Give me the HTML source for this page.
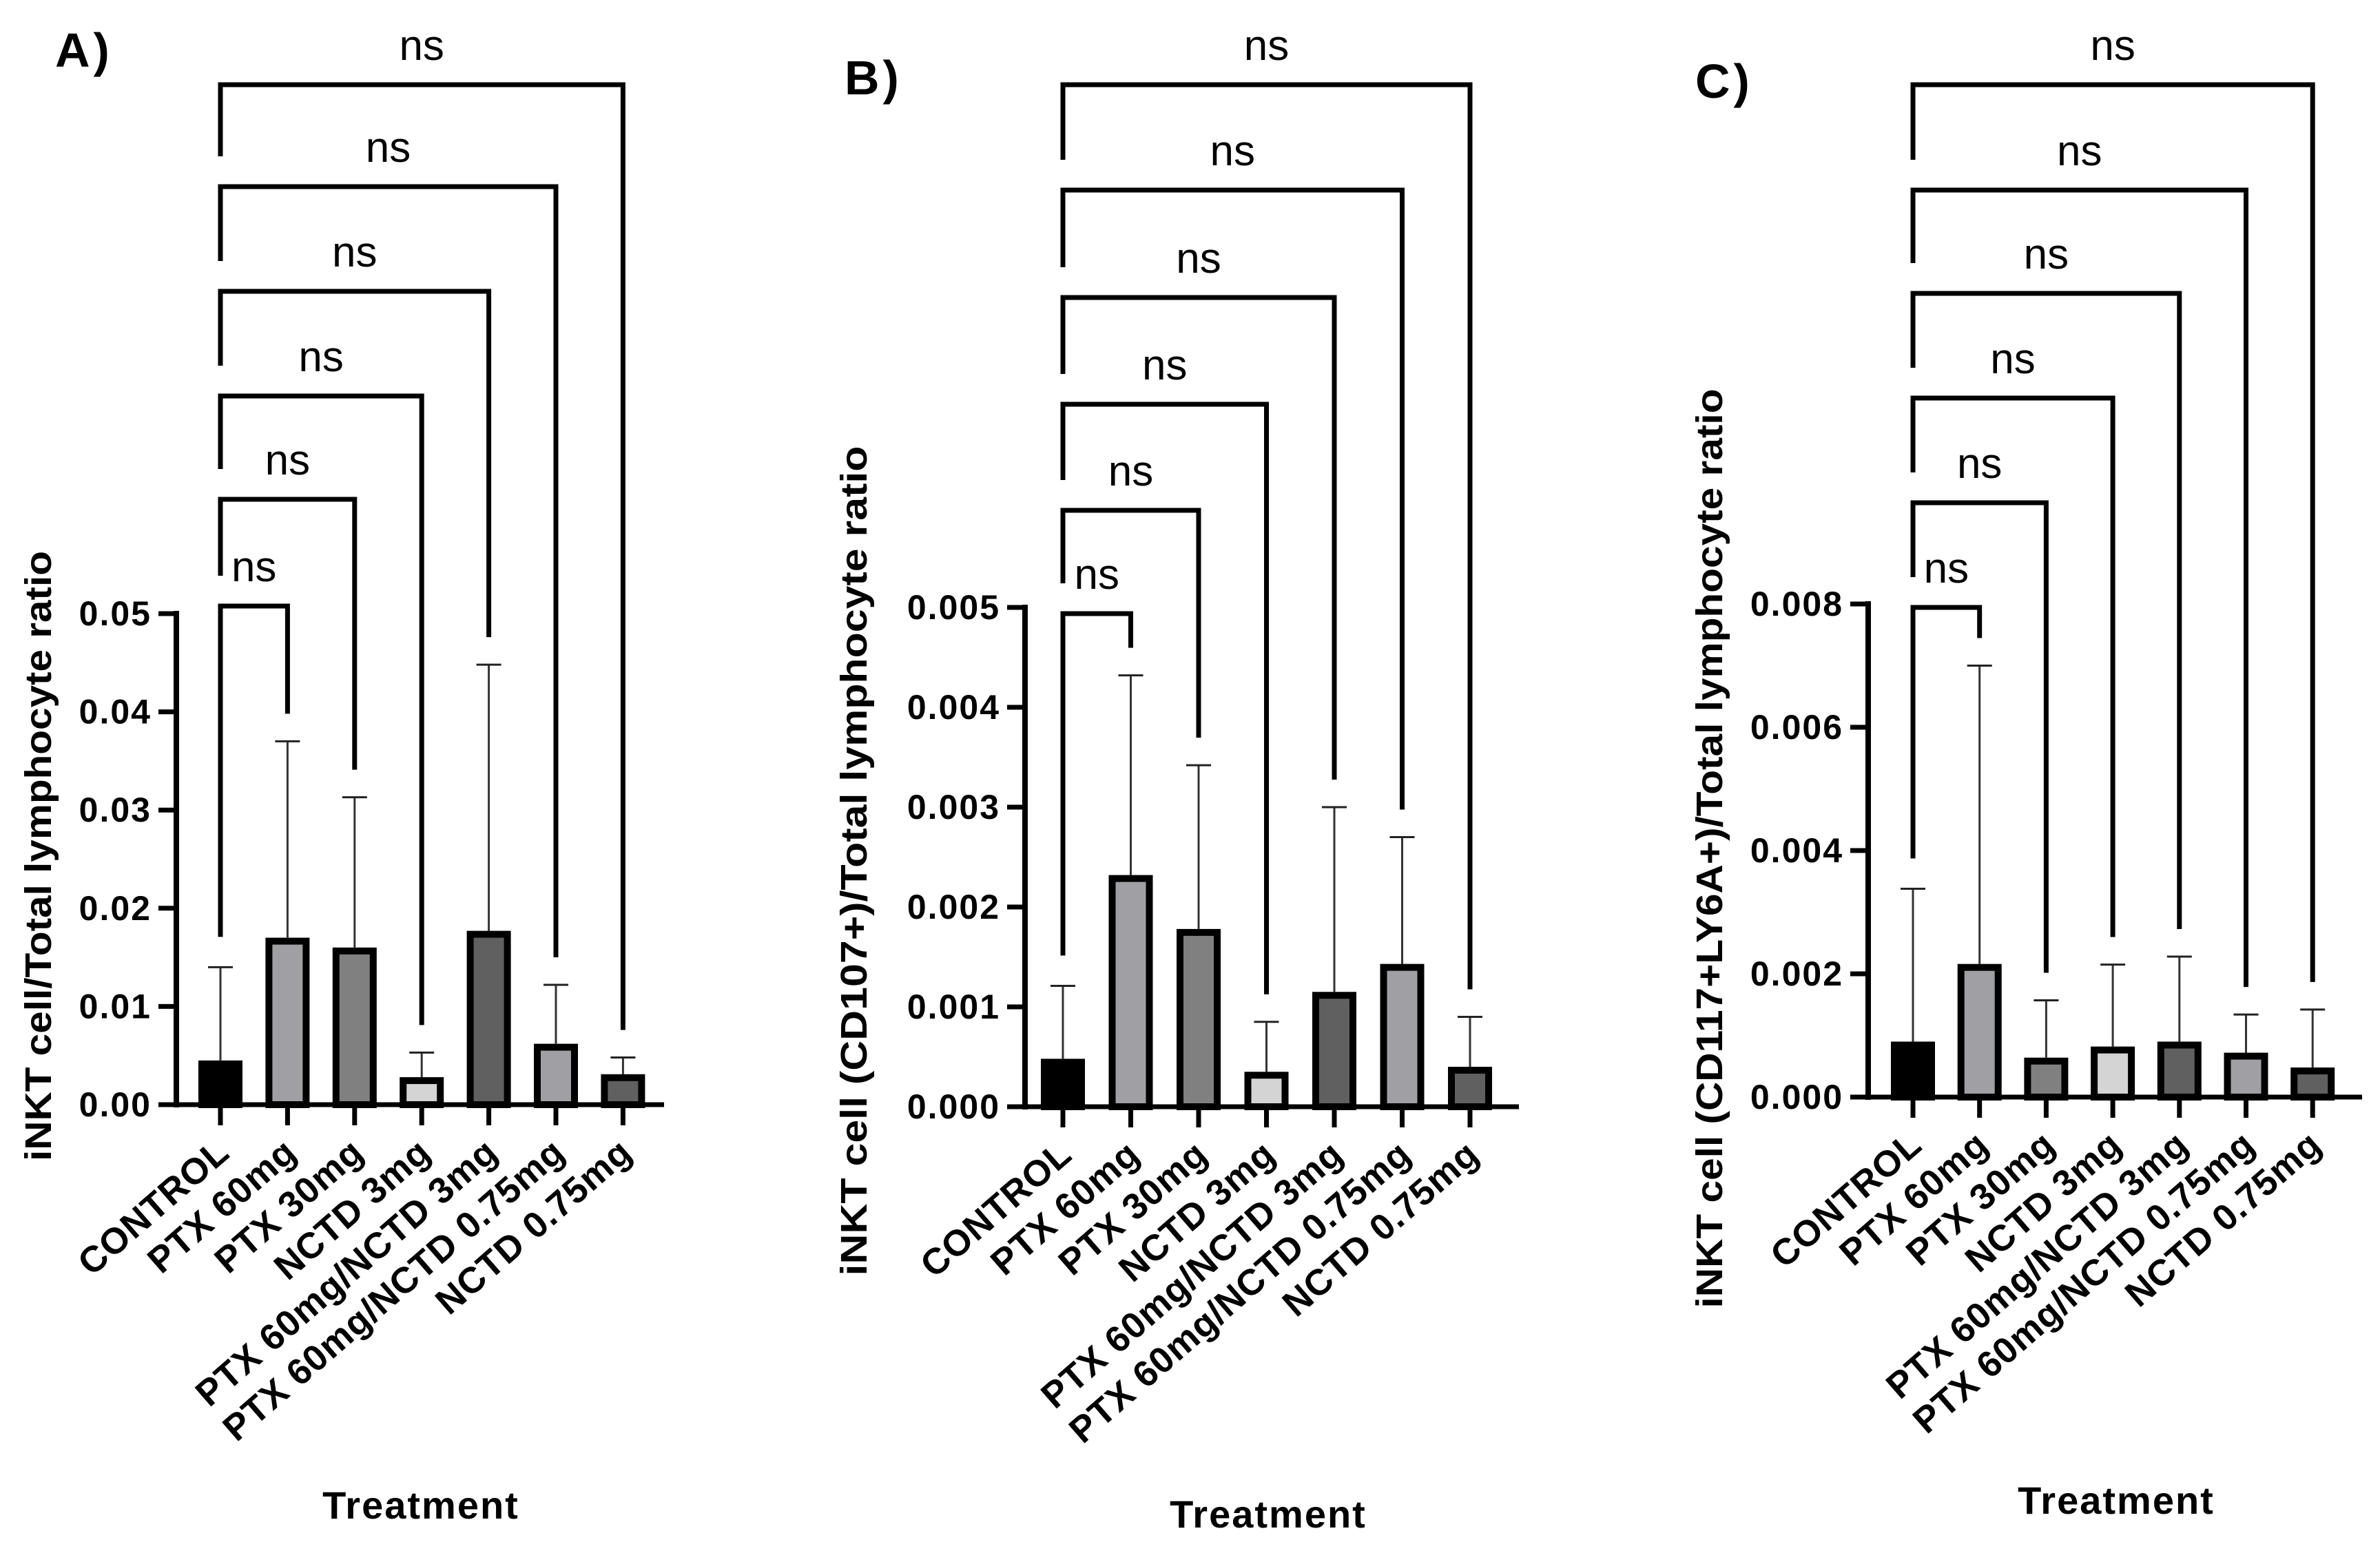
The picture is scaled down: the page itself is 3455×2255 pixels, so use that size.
<!DOCTYPE html>
<html><head><meta charset="utf-8"><style>
html,body{margin:0;padding:0;background:#fff;}
svg{display:block;font-family:"Liberation Sans",Arial,sans-serif;}
</style></head><body>
<svg id="chart" width="3455" height="2255" viewBox="0 0 3455 2255" xmlns="http://www.w3.org/2000/svg"></svg>
<script>
const categories = ["CONTROL","PTX 60mg","PTX 30mg","NCTD 3mg","PTX 60mg/NCTD 3mg","PTX 60mg/NCTD 0.75mg","NCTD 0.75mg"];
const barColors = ["#000000","#a0a0a4","#808080","#d4d4d4","#606060","#a0a0a4","#606060"];
const meansA = [0.0045,0.0170,0.0160,0.0028,0.0177,0.0062,0.0031];
const errTopA = [0.0140,0.0370,0.0313,0.0053,0.0448,0.0122,0.0048];
const meansB = [0.00048,0.00232,0.00178,0.00035,0.00115,0.00143,0.00040];
const errTopB = [0.00121,0.00432,0.00342,0.00085,0.00300,0.00270,0.00090];
const meansC = [0.00090,0.00216,0.00064,0.00082,0.00090,0.00072,0.00048];
const errTopC = [0.00338,0.00700,0.00157,0.00215,0.00228,0.00134,0.00142];
const ticksA = [0,0.01,0.02,0.03,0.04,0.05];
const tickLabelsA = ["0.00","0.01","0.02","0.03","0.04","0.05"];
const ticksB = [0,0.001,0.002,0.003,0.004,0.005];
const tickLabelsB = ["0.000","0.001","0.002","0.003","0.004","0.005"];
const ticksC = [0,0.002,0.004,0.006,0.008];
const tickLabelsC = ["0.000","0.002","0.004","0.006","0.008"];
const sigLabels = ["ns","ns","ns","ns","ns","ns"];

const NS="http://www.w3.org/2000/svg";
const svg=document.getElementById('chart');
function mk(tag,attrs,parent){const e=document.createElementNS(NS,tag);for(const k in attrs)e.setAttribute(k,attrs[k]);(parent||svg).appendChild(e);return e;}

const panels=[
 {id:"a",letter:"A)",lx:80,ly:97,ax:256,y0:1604,ymaxPx:891,ymax:0.05,x0:320,dx:97.4,xEnd:964,
  means:meansA,errs:errTopA,ticks:ticksA,tl:tickLabelsA,brY:[880,725,575,423,271,123],
  title:"iNKT cell/Total lymphocyte ratio",tx:55,tyc:1243,tlen:886,trx:611,try_:2205},
 {id:"b",letter:"B)",lx:1226,ly:137,ax:1488,y0:1607,ymaxPx:882,ymax:0.005,x0:1543,dx:98.5,xEnd:2205,
  means:meansB,errs:errTopB,ticks:ticksB,tl:tickLabelsB,brY:[891,741,587,432,276,123],
  title:"iNKT cell (CD107+)/Total lymphocyte ratio",tx:1239,tyc:1250,tlen:1205,trx:1841,try_:2218},
 {id:"c",letter:"C)",lx:2461,ly:142,ax:2712,y0:1593,ymaxPx:877,ymax:0.008,x0:2777,dx:96.7,xEnd:3429,
  means:meansC,errs:errTopC,ticks:ticksC,tl:tickLabelsC,brY:[882,730,578,426,276,123],
  title:"iNKT cell (CD117+LY6A+)/Total lymphocyte ratio",tx:2481,tyc:1232,tlen:1335,trx:3072,try_:2198}
];

panels.forEach(p=>{
  const g=mk('g',{});
  
  
  const yS=v=>p.y0-(v/p.ymax)*(p.y0-p.ymaxPx);
  const xS=i=>p.x0+i*p.dx;
  const L=mk('text',{x:p.lx,y:p.ly,'font-size':70,'font-weight':'bold','letter-spacing':'5'},g);
  L.textContent=p.letter;
  
  
  const T=mk('text',{x:0,y:0,'font-size':54,'font-weight':'bold','text-anchor':'middle',textLength:p.tlen,lengthAdjust:'spacingAndGlyphs',transform:`translate(${p.tx+19},${p.tyc}) rotate(-90)`},g);
  T.textContent=p.title;
  
  
  const ya=mk('line',{x1:p.ax,y1:yS(p.ymax)-4,x2:p.ax,y2:p.y0+4,stroke:'#000','stroke-width':8},g);
  
  
  const xa=mk('line',{x1:p.ax-26,y1:p.y0,x2:p.xEnd,y2:p.y0,stroke:'#000','stroke-width':7},g);
  
  
  p.ticks.forEach((t,i)=>{
    const y=yS(t);
    const tk=mk('line',{x1:p.ax-26,y1:y,x2:p.ax,y2:y,stroke:'#000','stroke-width':7},g);
    
    
    const tx=mk('text',{x:p.ax-36,y:y+17,'font-size':50,'font-weight':'bold','text-anchor':'end','letter-spacing':'2'},g);
    tx.textContent=p.tl[i];
    
    
  });
  categories.forEach((c,i)=>{
    const cx=xS(i),top=yS(p.means[i]),et=yS(p.errs[i]);
    const el=mk('line',{x1:cx,y1:top,x2:cx,y2:et,stroke:'#333','stroke-width':3},g);
    
    
    const ec=mk('line',{x1:cx-18,y1:et,x2:cx+18,y2:et,stroke:'#222','stroke-width':3},g);
    
    
    const h=p.y0-top;
    const r=mk('rect',{x:cx-27,y:top+5,width:54,height:Math.max(h-5,0),fill:barColors[i],stroke:'#000','stroke-width':10},g);
    
    
    const xt=mk('line',{x1:cx,y1:p.y0,x2:cx,y2:p.y0+30,stroke:'#000','stroke-width':7},g);
    
    
    const lb=mk('text',{x:0,y:0,'font-size':53,'font-weight':'bold','text-anchor':'end','letter-spacing':'1',transform:`translate(${cx+16},${p.y0+74}) rotate(-41)`},g);
    lb.textContent=c;
    
    
  });
  p.brY.forEach((by,k)=>{
    const j=k+1, lx=xS(0), rx=xS(j);
    const leftBottom = k===0 ? yS(p.errs[0])-44 : p.brY[k-1]-44;
    const rightBottom = yS(p.errs[j])-40;
    const b=mk('path',{d:`M${lx},${leftBottom} L${lx},${by} L${rx},${by} L${rx},${rightBottom}`,fill:'none',stroke:'#000','stroke-width':7},g);
    
    
    const t=mk('text',{x:(lx+rx)/2,y:by-36,'font-size':62,'text-anchor':'middle'},g);
    t.textContent=sigLabels[k];
    
    
  });
  const tr=mk('text',{x:p.trx,y:p.try_,'font-size':56,'font-weight':'bold','text-anchor':'middle','letter-spacing':'2'},g);
  tr.textContent="Treatment";
  
  
});
</script>
</body></html>
